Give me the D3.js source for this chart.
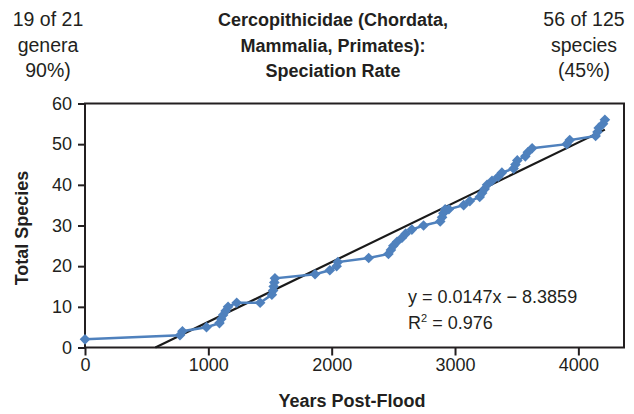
<!DOCTYPE html>
<html>
<head>
<meta charset="utf-8">
<script src="https://cdn.jsdelivr.net/npm/d3@7"></script>
<style>
  body { margin: 0; background: #fff; }
  text { font-family: "Liberation Sans", Arial, sans-serif; fill: #231f20; }
</style>
</head>
<body>
<svg id="chart" width="634" height="414"></svg>
<script>
// cumulative species vs years after the flood
var years   = [0, 770, 790, 985, 1090, 1105, 1120, 1140, 1160, 1230, 1420, 1515, 1525, 1530, 1535, 1540,
               1865, 1985, 2040, 2050, 2300, 2460, 2480, 2500, 2530, 2570, 2600, 2650, 2745, 2880, 2895,
               2905, 2920, 2950, 3070, 3120, 3200, 3220, 3240, 3260, 3300, 3350, 3380, 3475, 3490, 3505,
               3570, 3590, 3625, 3905, 3930, 4140, 4155, 4165, 4200, 4215];
var species = [2, 3, 4, 5, 6, 7, 8, 9, 10, 11, 11, 13, 14, 15, 16, 17,
               18, 19, 20, 21, 22, 23, 24, 25, 26, 27, 28, 29, 30, 31, 32,
               33, 34, 34, 35, 36, 37, 38, 39, 40, 41, 42, 43, 44, 45, 46,
               47, 48, 49, 50, 51, 52, 53, 54, 55, 56];

var slope = 0.0147, intercept = -8.3859;
var xTicks = [0, 1000, 2000, 3000, 4000];
var yTicks = [0, 10, 20, 30, 40, 50, 60];

var leftNote  = ["19 of 21", "genera", "90%)"];
var titleLines = ["Cercopithicidae (Chordata,", "Mammalia, Primates):", "Speciation Rate"];
var rightNote = ["56 of 125", "species", "(45%)"];

var svg = d3.select("#chart");
var m = {left: 85, right: 624, top: 103.5, bottom: 347.5};

var x = d3.scaleLinear().domain([0, 4370]).range([m.left, m.right]);
var y = d3.scaleLinear().domain([0, 60]).range([m.bottom, m.top]);

var data = years.map(function(d, i) { return {year: d, n: species[i]}; });

// axes
svg.append("g")
    .attr("transform", "translate(" + m.left + ",0)")
    .call(d3.axisLeft(y).tickValues(yTicks).tickSize(7).tickPadding(6))
    .call(function(g) {
      g.select(".domain").remove();
      g.selectAll("line").attr("stroke", "#231f20").attr("stroke-width", 2);
      g.selectAll("text").style("font-size", "18px").attr("fill", "#231f20");
    });

svg.append("g")
    .attr("transform", "translate(0," + m.bottom + ")")
    .call(d3.axisBottom(x).tickValues(xTicks).tickSize(8).tickPadding(3).tickFormat(d3.format("d")))
    .call(function(g) {
      g.select(".domain").remove();
      g.selectAll("line").attr("stroke", "#231f20").attr("stroke-width", 2);
      g.selectAll("text").style("font-size", "18px").attr("fill", "#231f20");
    });

// plot frame
svg.append("rect")
    .attr("x", m.left).attr("y", m.top)
    .attr("width", m.right - m.left).attr("height", m.bottom - m.top)
    .attr("fill", "none").attr("stroke", "#231f20").attr("stroke-width", 2);

// trend line
var x0 = -intercept / slope, x1 = d3.max(years);
svg.append("line")
    .attr("x1", x(x0)).attr("y1", y(0))
    .attr("x2", x(x1)).attr("y2", y(slope * x1 + intercept))
    .attr("stroke", "#1a1a1a").attr("stroke-width", 2.2);

var line = d3.line().x(function(d) { return x(d.year); }).y(function(d) { return y(d.n); });
svg.append("path")
    .datum(data)
    .attr("d", line)
    .attr("fill", "none").attr("stroke", "#4f81bd").attr("stroke-width", 2.5);

svg.selectAll(".pt")
    .data(data)
  .enter().append("path")
    .attr("class", "pt")
    .attr("d", d3.symbol().type(d3.symbolDiamond2).size(72))
    .attr("transform", function(d) { return "translate(" + x(d.year) + "," + y(d.n) + ")"; })
    .attr("fill", "#4f81bd");

// equation
svg.append("text").attr("x", 408).attr("y", 303).style("font-size", "18px")
    .text("y = 0.0147x \u2212 8.3859");
var r2 = svg.append("text").attr("x", 408).attr("y", 329).style("font-size", "18px");
r2.append("tspan").text("R");
r2.append("tspan").attr("dy", -7).style("font-size", "11px").text("2");
r2.append("tspan").attr("dy", 7).text(" = 0.976");

// axis titles
svg.append("text")
    .attr("transform", "translate(28,228) rotate(-90)")
    .attr("text-anchor", "middle")
    .style("font-size", "18px").style("font-weight", "bold")
    .text("Total Species");
svg.append("text")
    .attr("x", 352).attr("y", 407)
    .attr("text-anchor", "middle")
    .style("font-size", "18px").style("font-weight", "bold")
    .text("Years Post-Flood");

// header
function block(lines, cx, bold, size) {
  svg.selectAll(null)
      .data(lines)
    .enter().append("text")
      .attr("x", cx)
      .attr("y", function(d, i) { return 26 + i * 25.5; })
      .attr("text-anchor", "middle")
      .style("font-size", size)
      .style("font-weight", bold ? "bold" : "normal")
      .text(function(d) { return d; });
}
block(leftNote, 48, false, "19.5px");
block(titleLines, 333, true, "18px");
block(rightNote, 584, false, "19.5px");
</script>
</body>
</html>
